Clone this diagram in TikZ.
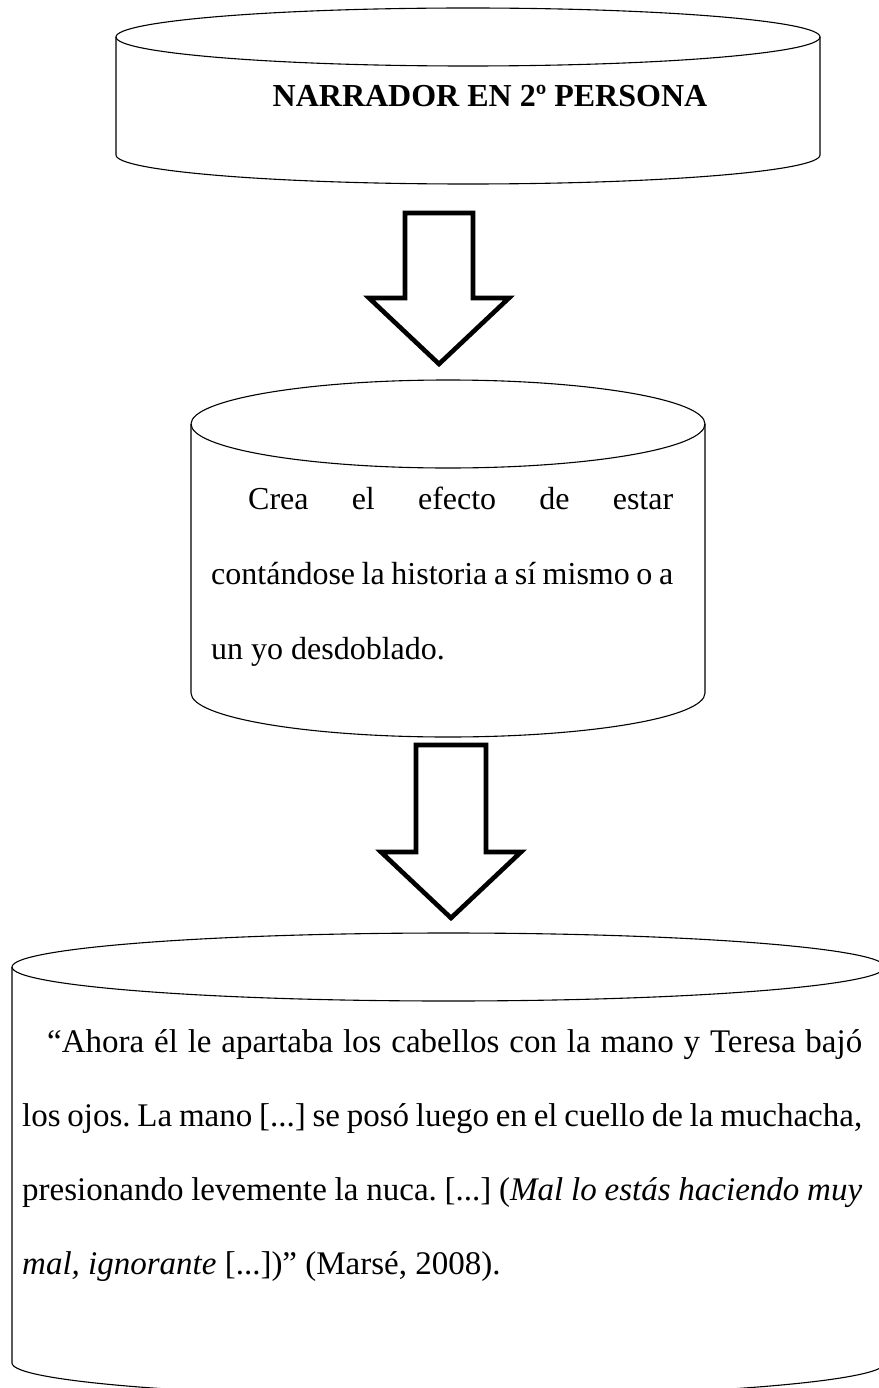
\documentclass[tikz,border=0pt]{standalone}
\usepackage{fontspec}
\setmainfont{Liberation Serif}[BoldFont={Liberation Serif Bold},ItalicFont={Liberation Serif Italic}]
\usepackage{tikz}
\frenchspacing

% cilindro: centro x, radio x, y de la tapa, y del fondo, radio y
\newcommand{\cilindro}[5]{%
  \draw[borde] (#1,#3) ellipse[x radius=#2, y radius=#5];
  \draw[borde] (#1-#2,#3) -- (#1-#2,#4)
    arc[start angle=180, end angle=0, x radius=#2, y radius=#5] -- (#1+#2,#3);
}
% flecha: centro x, ancho medio del tronco, ancho medio de la punta, y arriba, y de la punta ancha, y de la punta
\newcommand{\flechaabajo}[6]{%
  \draw[flecha] (#1-#2,#4) -- (#1+#2,#4) -- (#1+#2,#5) -- (#1+#3,#5)
    -- (#1,#6) -- (#1-#3,#5) -- (#1-#2,#5) -- cycle;
}

\begin{document}
\begin{tikzpicture}[x=1pt,y=-1pt,
  borde/.style={draw,line width=1.1pt},
  flecha/.style={draw,line width=4.6pt,miter limit=10},
  texto/.style={inner sep=0pt,align=justify}]
\useasboundingbox (0,0) rectangle (878,1388);

\cilindro{468}{352}{37}{155}{29}
\node [inner sep=0pt,anchor=base,font=\fontsize{32}{38}\selectfont\bfseries] (narrador) at (490,107) {NARRADOR EN 2º PERSONA};

\flechaabajo{439}{34}{70}{213}{298}{364}

\cilindro{448}{257}{424}{693}{44}
\node [texto,font=\fontsize{32}{75}\selectfont,text width=462pt,anchor=base west] (efecto) at (211,509)
  {\hspace*{37pt}Crea el efecto de estar\linebreak
   contándose la historia a sí mismo o a\linebreak
   un yo desdoblado.};

\flechaabajo{451}{35}{70}{745}{852}{918}

\cilindro{448.5}{436.5}{967}{1363}{34}
\node [texto,font=\fontsize{33}{74}\selectfont,text width=840pt,anchor=base west] (cita) at (22,1052)
  {\hspace*{25pt}“Ahora él le apartaba los cabellos con la mano y Teresa bajó\linebreak
   los ojos. La mano [...] se posó luego en el cuello de la muchacha,\linebreak
   presionando levemente la nuca. [...] (\textit{Mal lo estás haciendo muy\linebreak
   mal, ignorante} [...])” (Marsé, 2008).};
\end{tikzpicture}
\end{document}
